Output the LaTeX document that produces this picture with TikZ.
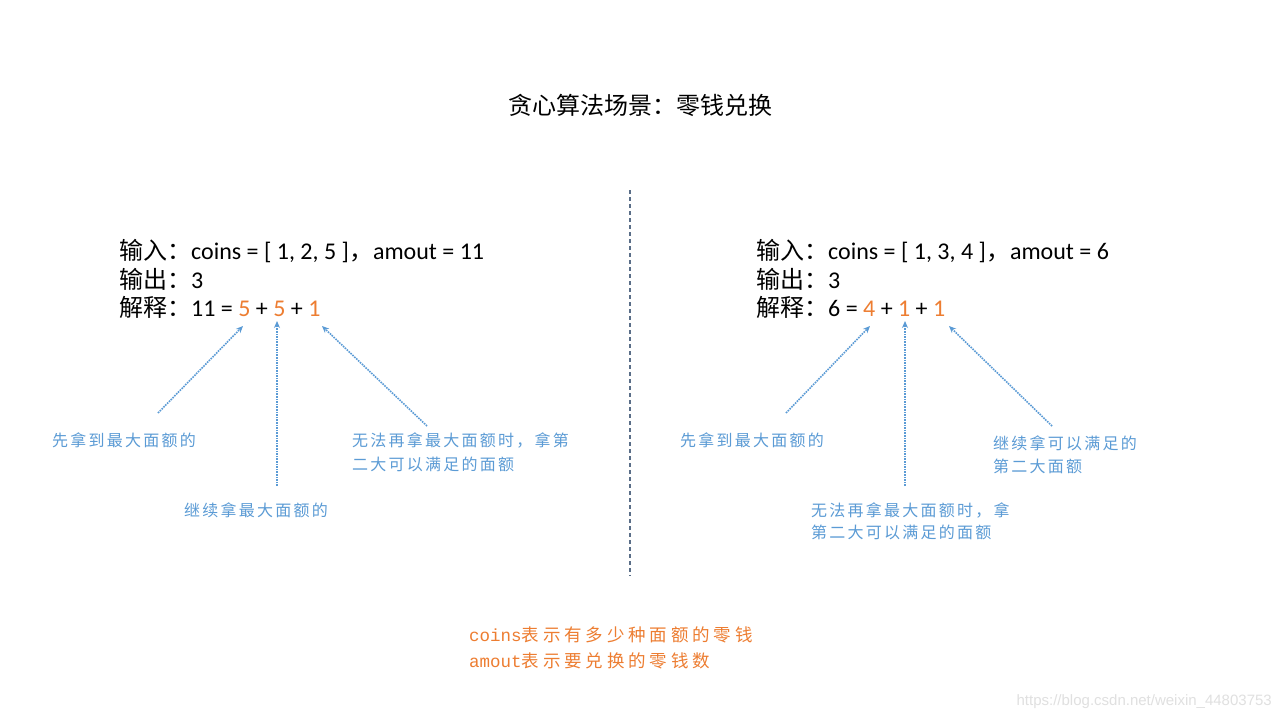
\documentclass[tikz,border=0pt]{standalone}
\usepackage{fontspec}
\setmainfont{Carlito}
\newfontfamily\zhfont{Noto Sans CJK SC}
\newfontfamily\zhnote{Noto Sans CJK SC}[LetterSpace=14]
\newfontfamily\zhbot{Noto Sans CJK SC}[LetterSpace=22]
\newfontfamily\monof{Liberation Mono}
\newfontfamily\wmfont{Liberation Sans}
\usetikzlibrary{arrows.meta}
\definecolor{orng}{HTML}{ED7D31}
\definecolor{noteblue}{HTML}{5B9BD5}
\definecolor{divcol}{HTML}{5A6E88}
\newcommand\zh[1]{{\zhfont #1}}
\newcommand\og[1]{\textcolor{orng}{#1}}
\tikzset{
  body/.style={anchor=base west, inner sep=0pt, font=\fontsize{24}{28}\selectfont},
  note/.style={anchor=base west, inner sep=0pt, text=noteblue, font=\fontsize{16}{20}\zhnote},
  bot/.style={anchor=base west, inner sep=0pt, text=orng, font=\fontsize{17.5}{22}\selectfont},
  arr/.style={noteblue, line width=1.6pt, densely dotted, -{Stealth[length=7pt,width=6pt]}},
  divider/.style={divcol, line width=1.2pt, dash pattern=on 4pt off 3pt},
}
\begin{document}
\begin{tikzpicture}[x=1pt,y=-1pt]
\useasboundingbox[fill=white] (0,0) rectangle (1280,720);
% title
\node[anchor=base, inner sep=0pt, font=\fontsize{24}{28}\zhfont] (title) at (640,114) {贪心算法场景：零钱兑换};
% divider
\coordinate (dtop) at (630,190);
\coordinate (dbot) at (630,576);
\draw[divider] (dtop) -- (dbot);
% left block
\node[body] (L1) at (119,259) {\zh{输入：}coins = [ 1, 2, 5 ]\zh{，}amout = 11};
\node[body] (L2) at (119,288) {\zh{输出：}3};
\node[body] (L3) at (119,316) {\zh{解释：}11 = \og{5} + \og{5} + \og{1}};
% right block
\node[body] (R1) at (756,259) {\zh{输入：}coins = [ 1, 3, 4 ]\zh{，}amout = 6};
\node[body] (R2) at (756,288) {\zh{输出：}3};
\node[body] (R3) at (756,316) {\zh{解释：}6 = \og{4} + \og{1} + \og{1}};
% left notes
\node[note] (ln1) at (52,446) {先拿到最大面额的};
\node[note] (ln2) at (184,516) {继续拿最大面额的};
\node[note] (ln3a) at (352,446) {无法再拿最大面额时，拿第};
\node[note] (ln3b) at (352,470) {二大可以满足的面额};
% left arrows
\coordinate (la1s) at (158,413); \coordinate (la1e) at (243,326);
\coordinate (la2s) at (277,486); \coordinate (la2e) at (277,321);
\coordinate (la3s) at (427,426); \coordinate (la3e) at (322,326);
\draw[arr] (la1s) -- (la1e);
\draw[arr] (la2s) -- (la2e);
\draw[arr] (la3s) -- (la3e);
% right notes
\node[note] (rn1) at (680,446) {先拿到最大面额的};
\node[note] (rn3a) at (993,449) {继续拿可以满足的};
\node[note] (rn3b) at (993,472) {第二大面额};
\node[note] (rn2a) at (811,516) {无法再拿最大面额时，拿};
\node[note] (rn2b) at (811,538) {第二大可以满足的面额};
% right arrows
\coordinate (ra1s) at (786,413); \coordinate (ra1e) at (870,326);
\coordinate (ra2s) at (905,486); \coordinate (ra2e) at (905,321);
\coordinate (ra3s) at (1052,426); \coordinate (ra3e) at (949,326);
\draw[arr] (ra1s) -- (ra1e);
\draw[arr] (ra2s) -- (ra2e);
\draw[arr] (ra3s) -- (ra3e);
% bottom legend
\node[bot] (b1) at (469,641) {{\monof coins}{\zhbot 表示有多少种面额的零钱}};
\node[bot] (b2) at (469,667) {{\monof amout}{\zhbot 表示要兑换的零钱数}};
% watermark
\node[anchor=base east, inner sep=0pt, text=black!12, font=\fontsize{15}{18}\wmfont] (wm) at (1272,705) {https://blog.csdn.net/weixin\_44803753};
\end{tikzpicture}
\end{document}
